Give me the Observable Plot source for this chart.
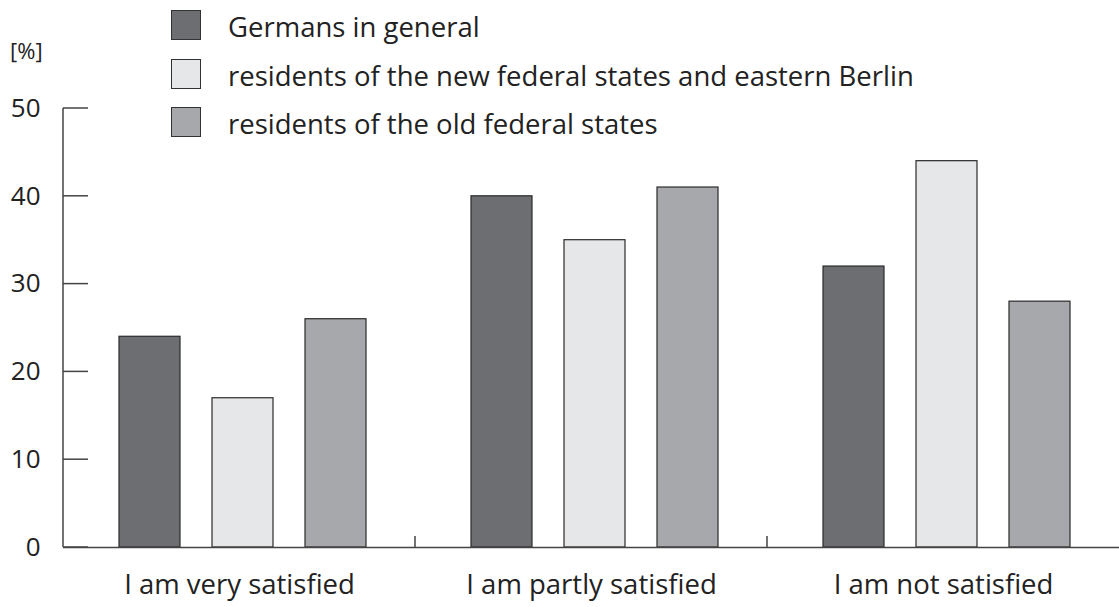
<!DOCTYPE html>
<html><head><meta charset="utf-8">
<script src="https://cdn.jsdelivr.net/npm/d3@7"></script>
<script src="https://cdn.jsdelivr.net/npm/@observablehq/plot@0.6"></script>
<style>
body{margin:0;background:#fff;font-family:"Open Sans",sans-serif;color:#222;}
#wrap{position:relative;width:1119px;height:607px;}
#legend{position:absolute;left:171px;top:10px;}
.item{display:flex;align-items:flex-end;height:30px;margin-bottom:18.5px;}
.sw{width:30px;height:30px;box-sizing:border-box;border:1.5px solid #333;margin-right:27px;flex:none;}
.lab{font-size:27.5px;line-height:30px;white-space:nowrap;position:relative;top:2px;}
#unit{position:absolute;left:10px;top:35px;font-size:22px;}
</style></head>
<body><div id="wrap"><div id="unit">[%]</div><div id="legend"></div></div>
<script>
const categories = ["I am very satisfied", "I am partly satisfied", "I am not satisfied"];
const series = ["Germans in general", "residents of the new federal states and eastern Berlin", "residents of the old federal states"];
const colors = ["#6d6e72", "#e6e7e9", "#a7a8ac"];
const germans = [24, 40, 32];
const newStates = [17, 35, 44];
const oldStates = [26, 41, 28];
const yTicks = [0, 10, 20, 30, 40, 50];

const values = [germans, newStates, oldStates];
const data = [];
categories.forEach((c, i) => series.forEach((s, j) => data.push({cat: c, series: s, value: values[j][i]})));

const plot = Plot.plot({
  width: 1119, height: 607,
  marginTop: 108, marginBottom: 60, marginLeft: 63, marginRight: 0,
  style: {fontFamily: "Open Sans", color: "#222", background: "transparent"},
  fx: {domain: categories, padding: 0, label: null},
  x: {domain: series, paddingInner: 0.344, paddingOuter: 0.56, align: 0.53, axis: null},
  y: {domain: [0, 50], axis: null},
  color: {domain: series, range: colors},
  marks: [
    Plot.barY(data, {fx: "cat", x: "series", y: "value", fill: "series", stroke: "#2a2a2a", strokeWidth: 1.2}),
    Plot.ruleY([0], {stroke: "#444", strokeWidth: 1.5}),
    Plot.axisFx({anchor: "bottom", tickSize: 0, tickPadding: 27, fontSize: 27.5, label: null}),
    Plot.axisY(yTicks, {tickSize: 0, tickPadding: 23, fontSize: 26, label: null})
  ]
});
const wrap = document.getElementById("wrap");
wrap.insertBefore(plot, wrap.firstChild);

// y axis line and inward ticks, boundary ticks, from the library scales
const ys = plot.scale("y"), fxs = plot.scale("fx");
const svg = d3.select(plot);
const x0 = 63;
const g = svg.append("g").attr("stroke", "#444").attr("stroke-width", 1.5);
g.append("line").attr("x1", x0).attr("x2", x0).attr("y1", ys.apply(0)).attr("y2", ys.apply(50));
yTicks.forEach(t => g.append("line").attr("x1", x0).attr("x2", x0 + 25).attr("y1", ys.apply(t)).attr("y2", ys.apply(t)));
categories.slice(1).forEach(c => g.append("line").attr("x1", fxs.apply(c)).attr("x2", fxs.apply(c)).attr("y1", ys.apply(0)).attr("y2", ys.apply(0) - 11));

const leg = d3.select("#legend");
series.forEach((s, i) => {
  const it = leg.append("div").attr("class", "item");
  it.append("div").attr("class", "sw").style("background", colors[i]);
  it.append("div").attr("class", "lab").text(s);
});
plot.style.position = "absolute"; plot.style.left = "0"; plot.style.top = "0";
</script></body></html>
